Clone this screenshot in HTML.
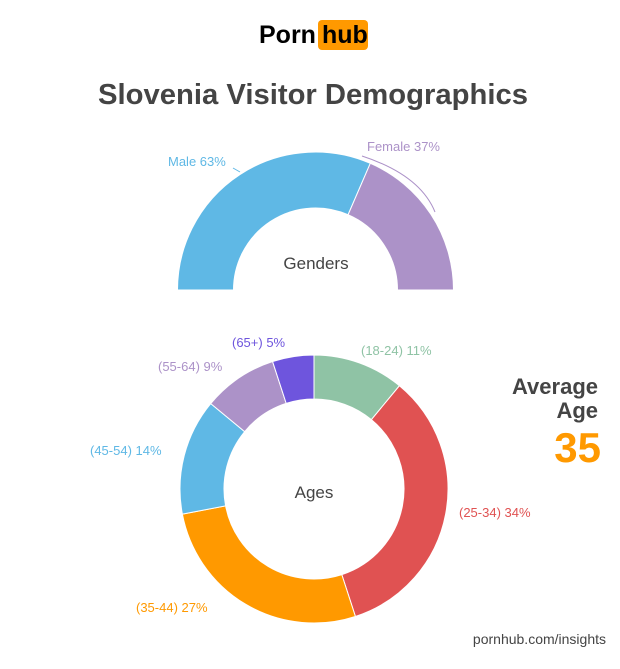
<!DOCTYPE html>
<html><head><meta charset="utf-8">
<style>
html,body{margin:0;padding:0;background:#fff;}
body{width:620px;height:664px;position:relative;overflow:hidden;font-family:"Liberation Sans",sans-serif;}
</style></head>
<body>
<svg id="s" width="620" height="664" viewBox="0 0 620 664" xmlns="http://www.w3.org/2000/svg" font-family="Liberation Sans, sans-serif">
<text x="259" y="43" font-size="25" font-weight="bold" fill="#000">Porn</text>
<rect x="318" y="20" width="50" height="30" rx="4" fill="#ff9900"/>
<text x="322" y="43" font-size="25" font-weight="bold" fill="#000">hub</text>
<text x="313" y="104" font-size="29" font-weight="bold" fill="#444" text-anchor="middle" textLength="430" lengthAdjust="spacingAndGlyphs">Slovenia Visitor Demographics</text>
<g id="g1"></g>
<g id="g2"></g>
<text x="316" y="269" font-size="17" fill="#444" text-anchor="middle">Genders</text>
<text x="314" y="498" font-size="17" fill="#444" text-anchor="middle">Ages</text>
<text x="168" y="166" font-size="13" fill="#5fb8e5">Male 63%</text>
<text x="367" y="151" font-size="13" fill="#ac92c8">Female 37%</text>
<polyline points="233,168 240,172" stroke="#5fb8e5" fill="none"/>
<path d="M362,156 Q420,175 435,212" stroke="#ac92c8" fill="none"/>
<text x="232" y="347" font-size="13" fill="#6e55dd">(65+) 5%</text>
<text x="158" y="371" font-size="13" fill="#ac92c8">(55-64) 9%</text>
<text x="90" y="455" font-size="13" fill="#5fb8e5">(45-54) 14%</text>
<text x="136" y="612" font-size="13" fill="#ff9900">(35-44) 27%</text>
<text x="459" y="517" font-size="13" fill="#e05252">(25-34) 34%</text>
<text x="361" y="355" font-size="13" fill="#8fc3a5">(18-24) 11%</text>
<text x="598" y="394" font-size="22" font-weight="bold" fill="#444" text-anchor="end">Average</text>
<text x="598" y="418" font-size="22" font-weight="bold" fill="#444" text-anchor="end">Age</text>
<text x="601" y="462" font-size="42" font-weight="bold" fill="#ff9900" text-anchor="end">35</text>
<text x="606" y="644" font-size="14" fill="#444" text-anchor="end">pornhub.com/insights</text>
</svg>
<script>
function arc(cx,cy,R,r,a0,a1,col){
 function p(rad,a){var t=(a-90)*Math.PI/180;return [cx+rad*Math.cos(t),cy+rad*Math.sin(t)];}
 var l=(a1-a0)>180?1:0,A=p(R,a0),B=p(R,a1),C=p(r,a1),D=p(r,a0);
 return '<path d="M'+A+' A'+R+','+R+' 0 '+l+' 1 '+B+' L'+C+' A'+r+','+r+' 0 '+l+' 0 '+D+' Z" fill="'+col+'" stroke="#fff" stroke-width="1"/>';
}
var g1='';g1+=arc(315.5,290,138,82,-90,-90+113.4,'#5fb8e5');g1+=arc(315.5,290,138,82,-90+113.4,90,'#ac92c8');
document.getElementById('g1').innerHTML=g1;
var d=[[11,'#8fc3a5'],[34,'#e05252'],[27,'#ff9900'],[14,'#5fb8e5'],[9,'#ac92c8'],[5,'#6e55dd']],a=0,g2='';
d.forEach(function(x){var b=a+x[0]*3.6;g2+=arc(314,489,134,90,a,b,x[1]);a=b;});
document.getElementById('g2').innerHTML=g2;
</script>
</body></html>
